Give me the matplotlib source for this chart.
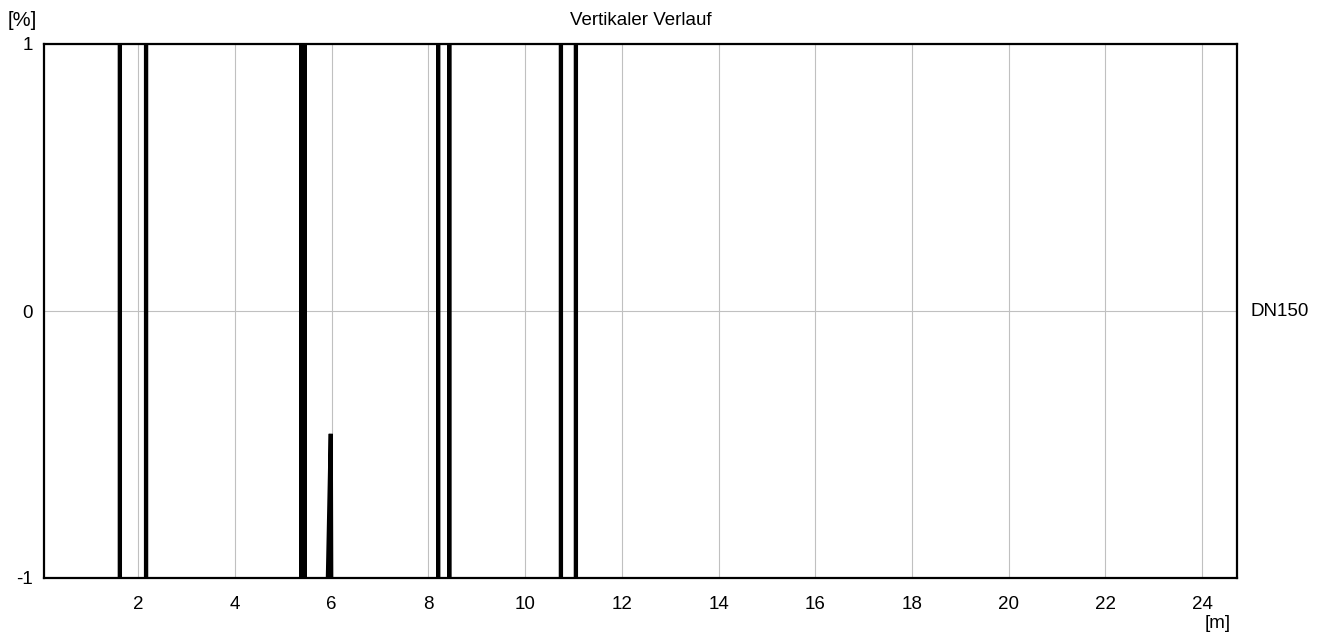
import matplotlib
matplotlib.use("Agg")
import matplotlib.pyplot as plt

plt.rcParams['font.family'] = ['Liberation Sans', 'DejaVu Sans']

# profile points (position in m, gradient in %); values outside +-1 are clipped by the axes
x_m = [0.0, 1.62, 1.62, 1.62, 2.16, 2.16, 2.16, 5.37, 5.37, 5.37, 5.44, 5.44, 5.44,
       5.92, 5.98, 5.99, 8.20, 8.20, 8.20, 8.43, 8.43, 8.43, 10.74, 10.74, 10.74,
       11.05, 11.05, 11.05, 24.7]
pct = [-50, -50, 50, -50, -50, 50, -50, -50, 50, -50, -50, 50, -50,
       -1.0, -0.46, -1.0, -50, 50, -50, -50, 50, -50, -50, 50, -50,
       -50, 50, -50, -50]

x_ticks = [2, 4, 6, 8, 10, 12, 14, 16, 18, 20, 22, 24]
y_ticks = [-1, 0, 1]

fig = plt.figure(figsize=(13.25, 6.37), dpi=100)
ax = fig.add_axes([44/1325, 59/637, 1193/1325, 534/637])

ax.plot(x_m, pct, color='black', lw=3, solid_joinstyle='miter')

ax.set_xlim(0.05, 24.72)
ax.set_ylim(-1, 1)
ax.set_xticks(x_ticks)
ax.set_yticks(y_ticks)
ax.set_yticklabels(['-1', '0', '1'])
ax.grid(True, color='#c0c0c0', lw=0.8)
ax.set_axisbelow(True)
ax.tick_params(axis='x', length=0, labelsize=13.5, pad=13)
ax.tick_params(axis='y', length=0, labelsize=13.5, pad=8)
for s in ax.spines.values():
    s.set_linewidth(1.6)
    s.set_color('black')

ax.set_title('Vertikaler Verlauf', fontsize=13.5, pad=14)
fig.text(8/1325, 1 - 20/637, '[%]', fontsize=14.5, va='center', ha='left')
fig.text(1218/1325, 1 - 624/637, '[m]', fontsize=13.5, va='center', ha='center')
ax.text(1.011, 0.5, 'DN150', transform=ax.transAxes, fontsize=13.5, va='center', ha='left')

fig.savefig('out.png', dpi=100)
